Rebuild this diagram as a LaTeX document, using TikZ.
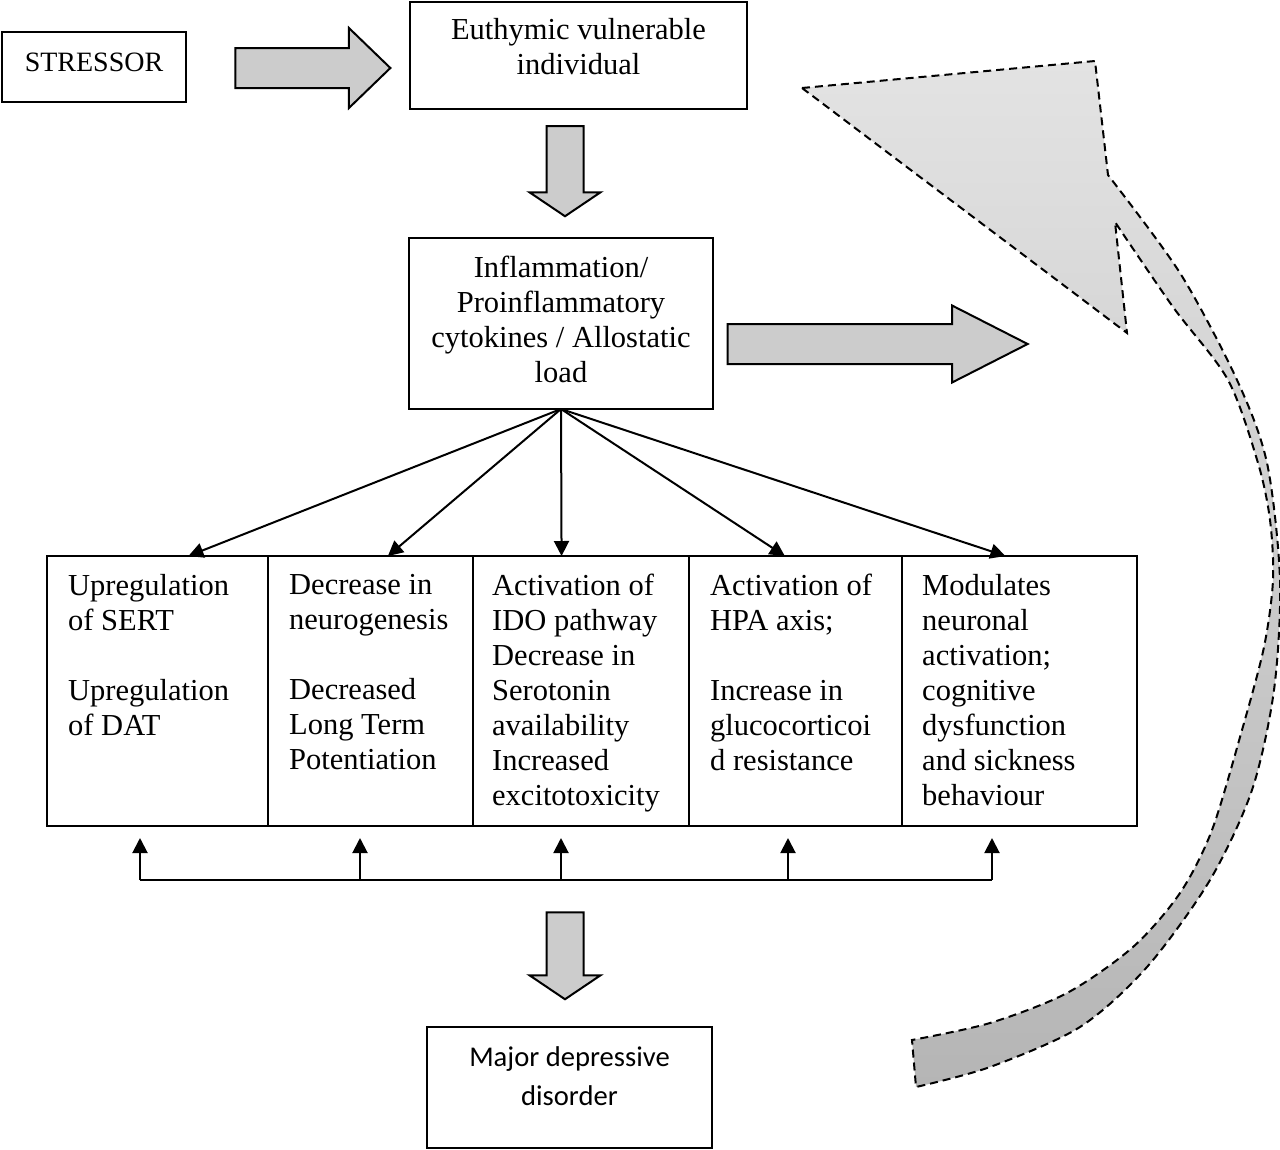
\documentclass[tikz,border=0pt]{standalone}
\usepackage{fontspec}
\setmainfont{Liberation Serif}
\newfontfamily\calfont{Carlito}
\usetikzlibrary{arrows.meta,calc,positioning,shapes.arrows}
\newcommand{\cellfont}{\fontsize{30.5}{35}\selectfont}
\newcommand{\majorfont}{\calfont\fontsize{28.6}{39}\selectfont}
\tikzset{
  flow box/.style={draw,line width=2pt,outer sep=0pt,inner sep=0pt},
  box text/.style={align=center,inner sep=0pt,font=\cellfont},
  cell text/.style={anchor=north west,align=left,inner sep=0pt,font=\cellfont},
  fat arrow/.style={single arrow,draw,line width=2pt,fill=gray!40,
    inner xsep=0pt,inner ysep=19pt,single arrow head extend=19pt},
  fat down/.style={fat arrow,shape border rotate=270,inner xsep=17.5pt,
    inner ysep=0pt,single arrow head extend=17pt,single arrow tip angle=112},
  thin arrow/.style={-{Triangle[length=15pt,width=15pt]},line width=2pt},
  loop arrow/.style={draw,line width=2pt,dash pattern=on 8pt off 5pt,
    top color=gray!22,bottom color=gray!58},
}

\begin{document}
\begin{tikzpicture}[x=1pt,y=-1pt]
  \useasboundingbox (0,0) rectangle (1280,1149);

  % Top row
  \node[flow box,minimum width=184pt,minimum height=70pt] (stressor) at (94,67) {};
  \node[box text,font=\fontsize{28}{34}\selectfont] (stressorT)
    at ($(stressor)+(0,-5)$) {STRESSOR};
  \node[flow box,minimum width=337pt,minimum height=107pt] (euth) at (578.5,55) {};
  \node[box text] (euthT) at ($(euth)+(0,-8)$) {Euthymic vulnerable\\individual};
  \node[fat arrow,minimum height=155pt,single arrow head extend=20pt,
    single arrow tip angle=88] (a1) at (302.5,68) {};

  % Inflammation
  \node[fat down,minimum height=90pt] (a2) at (565,165) {};
  \node[flow box,minimum width=304pt,minimum height=171pt] (infl) at (561,323.5) {};
  \node[box text] (inflT) at ($(infl)+(0,-4)$)
    {Inflammation/\\Proinflammatory\\cytokines / Allostatic\\load};
  \node[fat arrow,minimum height=300pt,single arrow head extend=18.5pt,
    single arrow tip angle=54] (a3) at (858,344) {};

  % Row of effects
  \node[flow box,minimum width=221pt,minimum height=270pt,anchor=north west]
    (c1) at (47,556) {};
  \node[flow box,minimum width=205pt,minimum height=270pt,right=0pt of c1] (c2) {};
  \node[flow box,minimum width=216pt,minimum height=270pt,right=0pt of c2] (c3) {};
  \node[flow box,minimum width=213pt,minimum height=270pt,right=0pt of c3] (c4) {};
  \node[flow box,minimum width=235pt,minimum height=270pt,right=0pt of c4] (c5) {};
  \node[cell text] (c1T) at ($(c1.north west)+(21,18)$)
    {Upregulation\\of SERT\\[35pt]Upregulation\\of DAT};
  \node[cell text] (c2T) at ($(c2.north west)+(21,18)$)
    {Decrease in\\neurogenesis\\[35pt]Decreased\\Long Term\\Potentiation};
  \node[cell text] (c3T) at ($(c3.north west)+(19,18)$)
    {Activation of\\IDO pathway\\Decrease in\\Serotonin\\availability\\Increased\\excitotoxicity};
  \node[cell text] (c4T) at ($(c4.north west)+(21,18)$)
    {Activation of\\HPA axis;\\[35pt]Increase in\\glucocorticoi\\d resistance};
  \node[cell text] (c5T) at ($(c5.north west)+(20,18)$)
    {Modulates\\neuronal\\activation;\\cognitive\\dysfunction\\and sickness\\behaviour};

  \foreach \c/\t in {c1/0.64,c2/0.585,c3/0.41,c4/0.45,c5/0.44}
    \draw[thin arrow] (infl.south) -- ($(\c.north west)!\t!(\c.north east)$);

  % Feedback line under the row
  \foreach \c/\x in {c1/140,c2/360,c3/561,c4/788,c5/992} {
    \coordinate (fb\c) at (\x,880);
    \draw[thin arrow,shorten >=12pt] (fb\c) -- (fb\c |- \c.south);
  }
  \draw[line width=2pt] (fbc1) -- (fbc5);

  % Outcome
  \node[fat down,minimum height=87pt] (a4) at (565,949.5) {};
  \node[flow box,minimum width=285pt,minimum height=121pt] (mdd) at (569.5,1087.5) {};
  \node[box text,font=\majorfont] (mddT) at ($(mdd)+(0,-11)$) {Major depressive\\disorder};

  % Curved return arrow
  \path[loop arrow] (802,88) -- (1095,61) -- (1108,175)
    -- plot[smooth,tension=0.5] coordinates {(1108,175) (1180,273) (1237,380)
      (1267,463) (1280,580) (1274,690) (1252,790) (1210,880) (1147,967)
      (1080,1027) (990,1067) (916,1087)}
    -- (912,1040)
    -- plot[smooth,tension=0.5] coordinates {(912,1040) (990,1023) (1067,993)
      (1133,947) (1180,893) (1212,830) (1242,730) (1264,647) (1273,580)
      (1270,520) (1258,463) (1228,380) (1173,307) (1115,222)}
    -- (1127,333) -- cycle;
\end{tikzpicture}
\end{document}
